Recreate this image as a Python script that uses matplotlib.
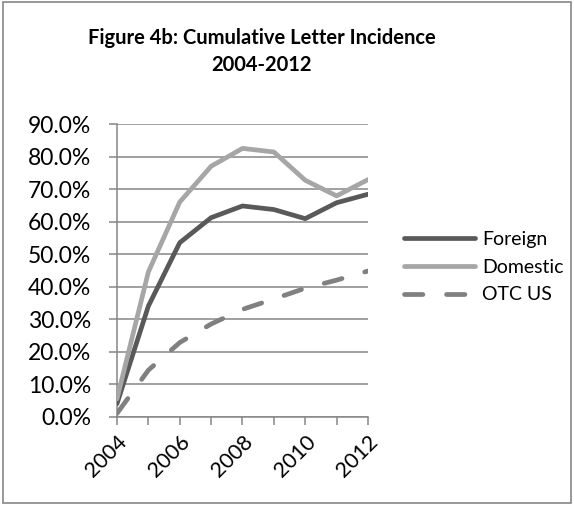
import matplotlib

matplotlib.use("Agg")
import matplotlib.pyplot as plt
from matplotlib.patches import Rectangle
from matplotlib.ticker import PercentFormatter

# %%
years = [2004, 2005, 2006, 2007, 2008, 2009, 2010, 2011, 2012]
foreign = [0.040, 0.340, 0.535, 0.612, 0.648, 0.637, 0.609, 0.658, 0.684]
domestic = [0.055, 0.445, 0.660, 0.770, 0.825, 0.814, 0.727, 0.679, 0.729]
otc_us = [0.010, 0.143, 0.228, 0.285, 0.330, 0.362, 0.395, 0.420, 0.448]
year_labels = [2004, 2006, 2008, 2010, 2012]

plt.rcParams["font.family"] = ["Lato", "DejaVu Sans"]

# %%
fig = plt.figure(figsize=(5.74, 5.07), dpi=100)
ax = fig.add_axes([0.2038, 0.1781, 0.4373, 0.5773])

ax.plot(years, foreign, color="#595959", lw=3.4, solid_capstyle="round", label="Foreign", zorder=3)
ax.plot(years, domestic, color="#a6a6a6", lw=3.4, solid_capstyle="round", label="Domestic", zorder=3)
ax.plot(years, otc_us, color="#808080", lw=3.4, linestyle=(0, (3.9, 5.0)), dash_capstyle="round",
        label="OTC US", zorder=3)

ax.set_xlim(2004, 2012)
ax.set_ylim(0, 0.9)
ax.set_yticks([i / 10 for i in range(10)])
ax.yaxis.set_major_formatter(PercentFormatter(1.0, decimals=1))
ax.set_xticks(years)
ax.set_xticklabels([str(y) if y in year_labels else "" for y in years], rotation=45,
                   ha="right", va="top", rotation_mode="anchor")

ax.grid(axis="y", color="#868686", lw=1.1)
ax.set_axisbelow(True)
for s in ["top", "right"]:
    ax.spines[s].set_visible(False)
for s in ["left", "bottom"]:
    ax.spines[s].set_color("#868686")
    ax.spines[s].set_linewidth(1.1)
ax.tick_params(axis="both", colors="#868686", labelcolor="black", length=6, width=1.1)
ax.tick_params(axis="y", pad=12.5, labelsize=16.5)
ax.tick_params(axis="x", pad=5, labelsize=15.5)

ax.legend(loc="center left", bbox_to_anchor=(1.143, 0.511), frameon=False, fontsize=14,
          borderaxespad=0, borderpad=0, handlelength=3.65, handletextpad=0.36, labelspacing=0.55)

fig.text(0.456, 0.898, "Figure 4b: Cumulative Letter Incidence\n2004-2012", ha="center", va="center",
         fontsize=14.5, fontweight="bold", linespacing=1.45)

fig.patches.append(Rectangle((0.005, 0.008), 0.99, 0.988, transform=fig.transFigure, fill=False,
                             edgecolor="#868686", lw=1.2))

fig.savefig("out.png", dpi=100)
